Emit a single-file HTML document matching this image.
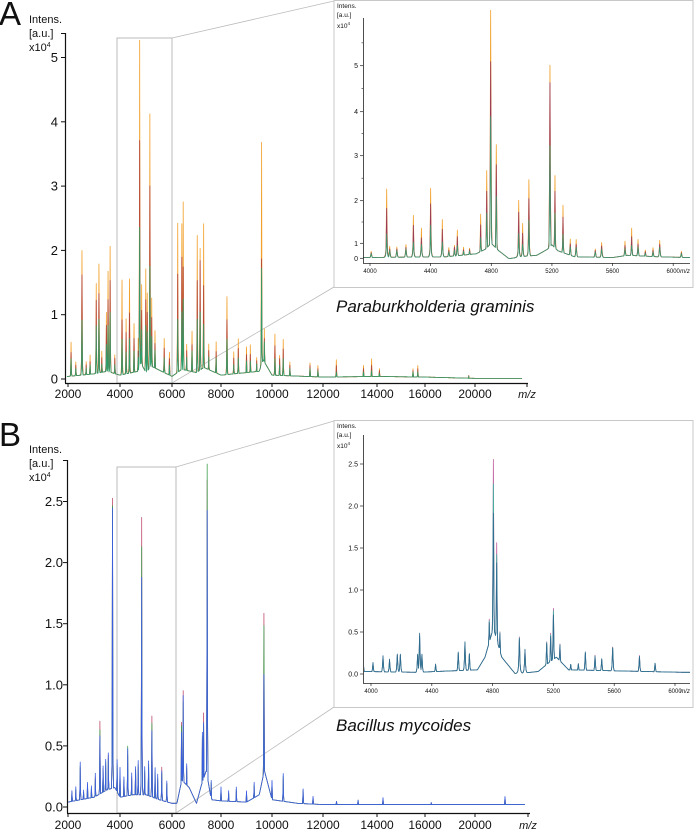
<!DOCTYPE html>
<html><head><meta charset="utf-8"><style>
html,body{margin:0;padding:0;background:#fff;}
svg{display:block;font-family:"Liberation Sans",Arial,sans-serif;}
</style></head><body>
<svg id="fig" width="696" height="832" viewBox="0 0 696 832" xmlns="http://www.w3.org/2000/svg">
<g id="root"></g>
</svg>
<script>
// ---------- DATA ----------
// Panel A main (Paraburkholderia graminis)
const aMainMz     = [2118,2300,2537,2700,2850,3086,3190,3300,3476,3541,3620,3800,4078,4235,4365,4540,4700,4757,4833,4992,5048,5149,5220,5345,5700,5900,6234,6402,6457,6600,6818,7030,7148,7292,7500,7802,8233,8500,8678,9000,9150,9400,9592,9700,10114,10300,10440,10700,11490,11800,12494,13500,13800,14100,15500,15700,19500];
const aMainOrange = [0.56,0.25,1.98,0.25,0.35,1.46,1.76,0.4,1.0,1.64,2.03,0.35,1.52,0.91,1.53,0.83,0.6,5.21,1.4,1.68,1.3,4.07,1.2,0.7,0.6,0.4,2.39,2.37,2.71,0.5,0.71,2.2,1.99,2.36,0.5,0.55,1.26,0.4,0.6,0.47,0.5,0.3,3.61,0.7,0.68,0.35,0.6,0.25,0.24,0.2,0.29,0.2,0.3,0.15,0.15,0.2,0.05];
const aMainRed    = [0.4,0.2,1.6,0.2,0.25,1.2,1.3,0.3,0.8,1.2,1.5,0.3,0.9,0.7,1.0,0.6,0.4,3.65,1.0,1.2,1.0,2.95,0.9,0.5,0.45,0.3,1.6,1.85,1.7,0.4,0.5,1.5,1.8,1.4,0.4,0.4,0.9,0.3,0.45,0.35,0.35,0.25,1.8,0.55,0.5,0.3,0.45,0.2,0.2,0.15,0.2,0.15,0.2,0.12,0.12,0.15,0.05];
const aMainGreen  = [0.3,0.15,0.9,0.15,0.2,0.8,0.9,0.2,0.5,0.8,1.0,0.2,0.6,0.4,0.6,0.4,0.3,2.3,0.7,0.8,0.7,1.7,0.6,0.4,0.3,0.2,0.9,1.0,1.2,0.3,0.4,0.9,1.0,0.8,0.3,0.3,0.6,0.2,0.3,0.25,0.25,0.2,1.65,0.5,0.3,0.2,0.3,0.15,0.15,0.12,0.1,0.1,0.12,0.08,0.1,0.1,0.04];
const aMainBaseMz  = [2000,3000,3500,4000,4700,4800,5000,5200,6000,6400,7000,7300,8000,9500,9650,10000,12000,14000,16000,20000,22000];
const aMainBaseVal = [0.04,0.08,0.12,0.06,0.12,0.25,0.1,0.2,0.04,0.15,0.1,0.18,0.06,0.12,0.3,0.06,0.03,0.04,0.03,0.01,0.01];

// Panel A inset (4000–6000)
const aInMz     = [4008,4110,4130,4177,4237,4286,4339,4400,4477,4520,4557,4576,4617,4657,4730,4770,4796,4833,4981,5007,5048,5187,5220,5273,5321,5360,5486,5528,5682,5726,5768,5816,5867,5911,6054];
const aInOrange = [0.44,2.24,0.78,0.73,0.89,1.63,1.33,2.25,1.53,0.67,0.82,1.26,0.67,0.6,1.55,2.46,5.93,3.05,1.98,1.43,2.42,4.78,2.35,1.78,1.04,1.06,0.6,1.0,1.0,1.3,1.04,0.51,0.67,1.04,0.44];
const aInRed    = [0.35,1.8,0.6,0.6,0.7,1.4,1.1,1.9,1.3,0.5,0.7,1.1,0.5,0.5,1.3,2.0,4.8,2.6,1.7,1.2,2.0,4.4,2.0,1.5,0.9,0.9,0.5,0.8,0.8,1.1,0.9,0.4,0.5,0.9,0.35];
const aInGreen  = [0.3,1.2,0.5,0.5,0.6,1.0,0.9,1.4,1.0,0.4,0.5,0.8,0.4,0.4,1.0,1.5,3.6,1.9,1.2,0.9,1.5,3.0,1.5,1.1,0.7,0.7,0.4,0.6,0.6,0.8,0.7,0.3,0.4,0.7,0.3];
const aInBaseMz  = [3950,4500,4700,4760,4800,4850,4920,4980,5100,5170,5200,5240,5350,5600,5700,5900,6100];
const aInBaseVal = [0.05,0.1,0.3,0.6,1.0,0.5,-0.05,0.1,0.2,0.6,0.9,0.5,0.1,0.05,0.2,0.1,0.05];

// Panel B main (Bacillus mycoides)
const bMainMz    = [2150,2300,2470,2600,2750,2900,3050,3227,3350,3450,3550,3712,3890,4000,4150,4296,4450,4600,4700,4834,4950,5100,5226,5350,5450,5606,5800,6390,6457,6600,7240,7290,7436,7600,8000,8300,8600,9000,9300,9683,10000,10440,11220,11610,12500,13300,14250,16500,21200];
const bMainBlue  = [0.12,0.15,0.35,0.12,0.18,0.15,0.25,0.55,0.3,0.35,0.4,2.4,0.35,0.3,0.22,0.45,0.25,0.3,0.35,1.85,0.3,0.35,0.6,0.3,0.25,0.28,0.2,0.55,0.85,0.3,0.55,0.62,2.35,0.2,0.15,0.12,0.15,0.12,0.18,1.0,0.2,0.26,0.14,0.08,0.04,0.05,0.07,0.03,0.08];
const bMainRed   = [0.1,0.12,0.3,0.1,0.15,0.12,0.22,0.67,0.28,0.3,0.38,2.48,0.3,0.25,0.2,0.4,0.22,0.28,0.3,2.34,0.25,0.3,0.72,0.25,0.2,0.31,0.18,0.63,0.89,0.28,0.5,0.7,2.6,0.18,0.12,0.1,0.12,0.1,0.15,1.5,0.18,0.22,0.12,0.07,0.04,0.05,0.06,0.03,0.07];
const bMainGreen = [0.11,0.13,0.32,0.1,0.16,0.13,0.2,0.6,0.27,0.33,0.36,2.42,0.32,0.26,0.2,0.47,0.2,0.27,0.32,2.1,0.27,0.32,0.66,0.27,0.22,0.26,0.18,0.6,0.8,0.26,0.52,0.6,2.73,0.18,0.13,0.1,0.13,0.1,0.16,1.4,0.18,0.24,0.13,0.07,0.04,0.05,0.06,0.03,0.07];
const bMainBaseMz  = [2000,2500,3000,3500,3800,4000,4500,5000,5500,6000,6200,6400,6700,7000,7200,7400,7600,8000,9000,9500,9700,10000,11000,12000,14000,16000,20000,22000];
const bMainBaseVal = [0.04,0.06,0.08,0.14,0.16,0.08,0.1,0.1,0.06,0.03,0.03,0.22,0.16,0.03,0.18,0.3,0.06,0.05,0.04,0.1,0.3,0.06,0.03,0.02,0.02,0.02,0.02,0.02];

// Panel B inset (4000–6000)
const bInMz    = [3947,4013,4079,4122,4173,4193,4307,4320,4335,4425,4574,4618,4647,4778,4805,4827,4848,4976,5013,5156,5182,5200,5243,5314,5364,5410,5474,5518,5590,5766,5869];
const bInBlue  = [0.25,0.13,0.21,0.17,0.23,0.23,0.23,0.48,0.23,0.11,0.25,0.37,0.23,0.5,1.75,1.2,0.4,0.42,0.29,0.33,0.4,0.65,0.3,0.1,0.11,0.25,0.2,0.17,0.3,0.2,0.12];
const bInRed   = [0.22,0.12,0.2,0.16,0.22,0.22,0.22,0.44,0.22,0.1,0.23,0.35,0.22,0.54,2.39,1.44,0.42,0.44,0.28,0.35,0.44,0.73,0.31,0.1,0.1,0.23,0.21,0.16,0.31,0.21,0.12];
const bInGreen = [0.23,0.12,0.2,0.16,0.22,0.22,0.22,0.45,0.22,0.1,0.24,0.36,0.22,0.52,2.1,1.3,0.41,0.43,0.28,0.34,0.42,0.7,0.3,0.1,0.1,0.24,0.2,0.16,0.3,0.2,0.12];
const bInBaseMz  = [3950,4300,4700,4750,4805,4860,4950,5100,5180,5220,5300,6050];
const bInBaseVal = [0.03,0.02,0.05,0.2,0.55,0.2,0.0,0.03,0.15,0.2,0.05,0.02];

// Tick labels
const mainXTicks = [2000,4000,6000,8000,10000,12000,14000,16000,20000];
const aMainYTicks = [0,1,2,3,4,5];
const bMainYTicks = [0,0.5,1.0,1.5,2.0,2.5];
const inXTicks = [4000,4400,4800,5200,5600,6000];
const aInYTicks = [0,1,2,3,4,5];
const bInYTicks = [0,0.5,1.0,1.5,2.0,2.5];

// ---------- SCALES ----------
const NS = "http://www.w3.org/2000/svg";
const root = document.getElementById('root');
function pw(knX, knY){
  return function(v){
    let i=0; while(i<knX.length-2 && v>knX[i+1]) i++;
    return knY[i]+(v-knX[i])*(knY[i+1]-knY[i])/(knX[i+1]-knX[i]);
  };
}
const mainXk = [2000,4000,6000,8000,10000,12000,14000,16000,20000,22000];
const mainXp = [68,120,172,221,272,323,377,425,475,525];
const aMainX = pw(mainXk, mainXp), aMainXinv = pw(mainXp, mainXk);
const aMainY = h => 379 - h*64.3;
const bMainX = pw(mainXk, mainXp), bMainXinv = aMainXinv;
const bMainY = h => 807 - h*122.2;
const aInX = m => 370 + (m-4000)*0.1516, aInXinv = p => 4000 + (p-370)/0.1516;
const aInY = pw([0,1,2,3,4,5,6],[258.3,243.3,200.7,155.7,111.7,65.7,20]);
const bInX = m => 371 + (m-4000)*0.152, bInXinv = p => 4000 + (p-371)/0.152;
const bInY = h => 674 - h*84;

function el(tag, attrs, parent){
  const e = document.createElementNS(NS, tag);
  for (const k in attrs) e.setAttribute(k, attrs[k]);
  (parent||root).appendChild(e);
  return e;
}
function txt(x,y,s,size,anchor,parent,extra){
  const t = el('text',Object.assign({x:x,y:y,'font-size':size,'text-anchor':anchor||'start',fill:'#111'},extra||{}),parent);
  t.textContent = s; return t;
}
function interp(xs, ys, v){
  if (v<=xs[0]) return ys[0];
  for (let i=0;i<xs.length-1;i++) if (v<=xs[i+1]) return ys[i]+(v-xs[i])*(ys[i+1]-ys[i])/(xs[i+1]-xs[i]);
  return ys[ys.length-1];
}
function spectrum(parent, mz, hs, w, bMz, bVal, xs, xinv, ys, x0, x1, color, name){
  const ms = [];
  for (let p=x0;p<=x1;p+=0.5) ms.push(xinv(p));
  mz.forEach(m=>ms.push(m));
  ms.sort((a,b)=>a-b);
  const pts = ms.map(m=>{
    const b = interp(bMz,bVal,m); let v = b;
    for (let i=0;i<mz.length;i++){ const d=(m-mz[i])/w; const c=hs[i]/(1+d*d) + b*0.3; if (c>v) v=c; }
    return xs(m).toFixed(2)+','+ys(v).toFixed(2);
  });
  const pl = el('polyline',{points:pts.join(' '),fill:'none',stroke:color,'stroke-width':0.8,'stroke-linejoin':'round'},parent);
  
  
}

// ---------- PANEL A ----------
const gA = el('g',{});


txt(-1,25,'A',33,'start',gA);
const ayt = el('g',{},gA);  
txt(29,23,'Intens.',11,'start',ayt); txt(29,37,'[a.u.]',11,'start',ayt);
const ax4 = txt(29,51,'x10',11,'start',ayt); const s1=el('tspan',{dy:-4,'font-size':7},ax4); s1.textContent='4';
const zA = el('rect',{x:117,y:38,width:55,height:345,fill:'none',stroke:'#bbb','stroke-width':1},gA);
 
el('line',{x1:172,y1:38,x2:334,y2:1,stroke:'#bbb','stroke-width':0.8},gA);
el('line',{x1:172,y1:383,x2:334,y2:287,stroke:'#bbb','stroke-width':0.8},gA);
const inA = el('rect',{x:334,y:0.5,width:359,height:287,fill:'#fff',stroke:'#c8c8c8','stroke-width':1},gA);
 
const cA = el('g',{},gA);  
spectrum(cA,aMainMz,aMainOrange,8,aMainBaseMz,aMainBaseVal,aMainX,aMainXinv,aMainY,67,522,'#f2a02a','series-orange');
spectrum(cA,aMainMz,aMainRed,8,aMainBaseMz,aMainBaseVal,aMainX,aMainXinv,aMainY,67,522,'#b0403a','series-red');
spectrum(cA,aMainMz,aMainGreen,8,aMainBaseMz,aMainBaseVal,aMainX,aMainXinv,aMainY,67,522,'#2e9e6a','series-green');
el('line',{x1:65.5,y1:33,x2:65.5,y2:383,stroke:'#111','stroke-width':1.2},gA);
el('line',{x1:65,y1:383.5,x2:528,y2:383.5,stroke:'#111','stroke-width':1.2},gA);
aMainYTicks.forEach(t=>{ const y=aMainY(t); el('line',{x1:61,y1:y,x2:65,y2:y,stroke:'#111'},gA); txt(58,y+4.5,String(t),13,'end',gA); });
el('line',{x1:61,y1:33.5,x2:65,y2:33.5,stroke:'#111'},gA);
mainXTicks.forEach(t=>{ const x=aMainX(t); el('line',{x1:x,y1:383,x2:x,y2:387,stroke:'#111'},gA); txt(x,398,String(t),12,'middle',gA); });
el('line',{x1:527,y1:383,x2:527,y2:387,stroke:'#111'},gA);
txt(527,398,'m/z',11,'middle',gA,{'font-style':'italic'});
const iA = el('g',{},gA);  
el('clipPath',{id:'clipA'},iA); el('rect',{x:363,y:10,width:327,height:253},document.getElementById('clipA'));
const iAs = el('g',{'clip-path':'url(#clipA)'},iA);
spectrum(iAs,aInMz,aInOrange,3,aInBaseMz,aInBaseVal,aInX,aInXinv,aInY,363,690,'#f2a02a','inset-series-orange');
spectrum(iAs,aInMz,aInRed,3,aInBaseMz,aInBaseVal,aInX,aInXinv,aInY,363,690,'#9a3a5a','inset-series-red');
spectrum(iAs,aInMz,aInGreen,3,aInBaseMz,aInBaseVal,aInX,aInXinv,aInY,363,690,'#3a9a70','inset-series-green');
txt(337,8,'Intens.',6.5,'start',iA); txt(337,17,'[a.u.]',6.5,'start',iA);
const ix = txt(337,28,'x10',6.5,'start',iA); const s2=el('tspan',{dy:-3,'font-size':4.5},ix); s2.textContent='4';
el('line',{x1:363.5,y1:18,x2:363.5,y2:263,stroke:'#222','stroke-width':0.8},iA);
el('line',{x1:363,y1:263.5,x2:690,y2:263.5,stroke:'#222','stroke-width':0.8},iA);
aInYTicks.forEach(t=>{ const y=aInY(t); el('line',{x1:360,y1:y,x2:363,y2:y,stroke:'#222','stroke-width':0.7},iA); txt(358,y+2.5,String(t),7,'end',iA); });
[1.5,2.5,3.5,4.5,5.5].forEach(t=>{ const y=aInY(t); el('line',{x1:361.5,y1:y,x2:363,y2:y,stroke:'#222','stroke-width':0.6},iA); });
inXTicks.forEach(t=>{ const x=aInX(t); el('line',{x1:x,y1:263,x2:x,y2:266,stroke:'#222','stroke-width':0.7},iA); txt(x,273,String(t),6,'middle',iA); });
txt(685,273,'m/z',6,'middle',iA,{'font-style':'italic'});
const spA = txt(336,312,'Paraburkholderia graminis',17,'start',gA,{'font-style':'italic'});
 

// ---------- PANEL B ----------
const gB = el('g',{});


txt(-1,446,'B',33,'start',gB);
const byt = el('g',{},gB);  
txt(29,453,'Intens.',11,'start',byt); txt(29,467,'[a.u.]',11,'start',byt);
const bx4 = txt(29,481,'x10',11,'start',byt); const s3=el('tspan',{dy:-4,'font-size':7},bx4); s3.textContent='4';
const zB = el('rect',{x:117,y:467,width:59,height:346,fill:'none',stroke:'#bbb','stroke-width':1},gB);
 
el('line',{x1:176,y1:467,x2:334,y2:421,stroke:'#bbb','stroke-width':0.8},gB);
el('line',{x1:176,y1:813,x2:334,y2:707,stroke:'#bbb','stroke-width':0.8},gB);
const inB = el('rect',{x:334,y:420.5,width:359,height:287,fill:'#fff',stroke:'#c8c8c8','stroke-width':1},gB);
 
const cB = el('g',{},gB);  
spectrum(cB,bMainMz,bMainRed,8,bMainBaseMz,bMainBaseVal,bMainX,bMainXinv,bMainY,67,525,'#c05070','series-red-b');
spectrum(cB,bMainMz,bMainGreen,8,bMainBaseMz,bMainBaseVal,bMainX,bMainXinv,bMainY,67,525,'#40a050','series-green-b');
spectrum(cB,bMainMz,bMainBlue,8,bMainBaseMz,bMainBaseVal,bMainX,bMainXinv,bMainY,67,525,'#3a5ee0','series-blue-b');
el('line',{x1:67.5,y1:460,x2:67.5,y2:813,stroke:'#111','stroke-width':1.2},gB);
el('line',{x1:67,y1:813.5,x2:530,y2:813.5,stroke:'#111','stroke-width':1.2},gB);
bMainYTicks.forEach(t=>{ const y=bMainY(t); el('line',{x1:63,y1:y,x2:67,y2:y,stroke:'#111'},gB); txt(63,y+4.5,t.toFixed(1),13,'end',gB); });
el('line',{x1:63,y1:460.5,x2:67,y2:460.5,stroke:'#111'},gB);
mainXTicks.forEach(t=>{ const x=bMainX(t); el('line',{x1:x,y1:813,x2:x,y2:817,stroke:'#111'},gB); txt(x,829,String(t),12,'middle',gB); });
el('line',{x1:528,y1:813,x2:528,y2:817,stroke:'#111'},gB);
txt(528,829,'m/z',11,'middle',gB,{'font-style':'italic'});
const iB = el('g',{},gB);  
el('clipPath',{id:'clipB'},iB); el('rect',{x:364,y:430,width:326,height:253},document.getElementById('clipB'));
const iBs = el('g',{'clip-path':'url(#clipB)'},iB);
spectrum(iBs,bInMz,bInRed,3,bInBaseMz,bInBaseVal,bInX,bInXinv,bInY,363,690,'#c060a0','inset-series-red-b');
spectrum(iBs,bInMz,bInGreen,3,bInBaseMz,bInBaseVal,bInX,bInXinv,bInY,363,690,'#40b0a0','inset-series-green-b');
spectrum(iBs,bInMz,bInBlue,3,bInBaseMz,bInBaseVal,bInX,bInXinv,bInY,363,690,'#2e6a90','inset-series-blue-b');
txt(337,428,'Intens.',6.5,'start',iB); txt(337,437,'[a.u.]',6.5,'start',iB);
const ix2 = txt(337,448,'x10',6.5,'start',iB); const s4=el('tspan',{dy:-3,'font-size':4.5},ix2); s4.textContent='4';
el('line',{x1:363.5,y1:435,x2:363.5,y2:683,stroke:'#222','stroke-width':0.8},iB);
el('line',{x1:363,y1:683.5,x2:690,y2:683.5,stroke:'#222','stroke-width':0.8},iB);
bInYTicks.forEach(t=>{ const y=bInY(t); el('line',{x1:360,y1:y,x2:363,y2:y,stroke:'#222','stroke-width':0.7},iB); txt(358,y+2.5,t.toFixed(1),7,'end',iB); });
inXTicks.forEach(t=>{ const x=bInX(t); el('line',{x1:x,y1:683,x2:x,y2:686,stroke:'#222','stroke-width':0.7},iB); txt(x,693,String(t),6,'middle',iB); });
txt(685,693,'m/z',6,'middle',iB,{'font-style':'italic'});
const spB = txt(336,731,'Bacillus mycoides',17,'start',gB,{'font-style':'italic'});
 
</script>
</body></html>
